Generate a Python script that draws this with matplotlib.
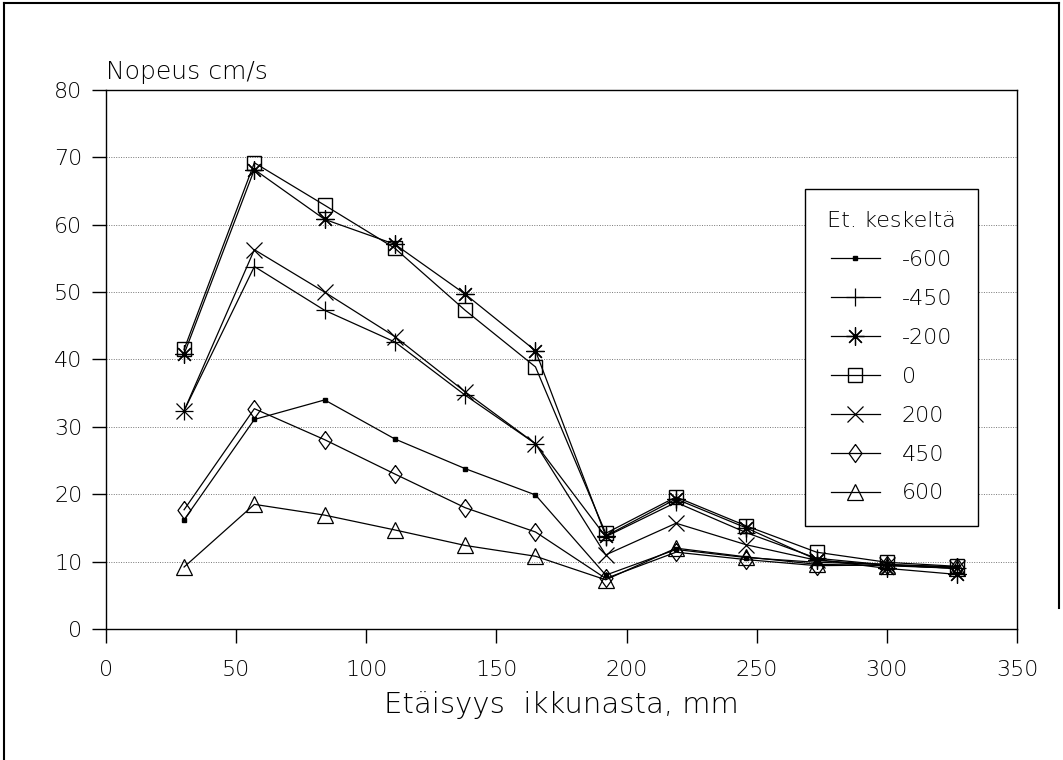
import matplotlib.pyplot as plt
from matplotlib.lines import Line2D

# distance from window, mm
x_mm = [30, 57, 84, 111, 138, 165, 192, 219, 246, 273, 300, 327]

# velocity cm/s per lateral position (distance from centre)
v_m600 = [16.2, 31.1, 34.0, 28.2, 23.8, 19.9, 8.0, 11.8, 10.6, 9.9, 9.6, 9.2]
v_m450 = [32.4, 53.8, 47.3, 42.6, 34.7, 27.5, 13.7, 18.8, 14.3, 10.5, 9.5, 9.0]
v_m200 = [40.8, 68.2, 60.8, 57.1, 49.7, 41.3, 13.8, 19.3, 15.0, 10.3, 9.0, 8.1]
v_0 = [41.5, 69.2, 62.9, 56.5, 47.3, 38.9, 14.2, 19.6, 15.3, 11.4, 9.9, 9.3]
v_200 = [32.4, 56.3, 50.0, 43.4, 35.2, 27.5, 11.0, 15.7, 12.5, 10.2, 9.5, 9.0]
v_450 = [17.7, 32.7, 28.1, 23.0, 18.0, 14.4, 7.5, 11.4, 10.3, 9.4, 9.5, 9.2]
v_600 = [9.2, 18.5, 16.9, 14.7, 12.4, 10.8, 7.3, 12.0, 10.7, 9.6, 9.4, 9.0]

labels = ['-600', '-450', '-200', '0', '200', '450', '600']
xticks = [0, 50, 100, 150, 200, 250, 300, 350]
yticks = [0, 10, 20, 30, 40, 50, 60, 70, 80]

diamond = [(0, 1), (0.72, 0), (0, -1), (-0.72, 0), (0, 1)]
styles = [
    dict(marker='s', ms=3.2, mfc='black'),
    dict(marker='+', ms=13, mew=0.9),
    dict(marker=(8, 2, 0), ms=13, mew=0.9),
    dict(marker='s', ms=10, mfc='none', mew=1.0),
    dict(marker='x', ms=11, mew=0.9),
    dict(marker=diamond, ms=13, mfc='none', mew=0.9),
    dict(marker='^', ms=12, mfc='none', mew=0.9),
]

plt.rcParams['font.family'] = 'DejaVu Sans'
fig = plt.figure(figsize=(10.63, 7.6), dpi=100)
ax = fig.add_axes([106 / 1063, 1 - 629 / 760, (1017 - 106) / 1063, (629 - 90) / 760])

series = [v_m600, v_m450, v_m200, v_0, v_200, v_450, v_600]
for vals, lab, st in zip(series, labels, styles):
    ax.plot(x_mm, vals, color='black', lw=0.9, mec='black', label=lab, **st)

ax.set_xlim(0, 350)
ax.set_ylim(0, 80)
ax.set_xticks(xticks)
ax.set_yticks(yticks)
ax.tick_params(axis='both', direction='out', length=10, width=1.0, labelsize=16,
               colors='black', pad=12)
ax.tick_params(axis='y', pad=7)
for t in ax.get_xticklabels() + ax.get_yticklabels():
    t.set_fontweight('light')
ax.yaxis.grid(True, linestyle=(0, (1, 1.5)), color='#777777', lw=0.7)
for s in ax.spines.values():
    s.set_linewidth(1.0)

ax.text(0, 1.012, 'Nopeus cm/s', transform=ax.transAxes, fontsize=18,
        ha='left', va='bottom', fontweight='light')
ax.set_xlabel('Etäisyys  ikkunasta, mm', fontsize=21, fontweight='light', labelpad=8)

leg = ax.legend(title='Et. keskeltä', loc='upper left',
                bbox_to_anchor=((805 - 106) / 911, 1 - (189 - 90) / 539),
                prop=dict(size=16, weight='light'), title_fontsize=16,
                frameon=True, fancybox=False, edgecolor='black', framealpha=1,
                handlelength=2.2, labelspacing=0.85, borderpad=1.0,
                handletextpad=1.0, borderaxespad=0)
leg.get_title().set_fontweight('light')
leg.get_frame().set_linewidth(1.0)

# frame around the whole figure
fig.add_artist(Line2D([0.004, 0.004], [0.0, 0.996], color='black', lw=1.5))
fig.add_artist(Line2D([0.004, 0.996], [0.996, 0.996], color='black', lw=1.5))
fig.add_artist(Line2D([0.996, 0.996], [0.996, 0.2], color='black', lw=1.5))

fig.savefig('out.png', dpi=100)
